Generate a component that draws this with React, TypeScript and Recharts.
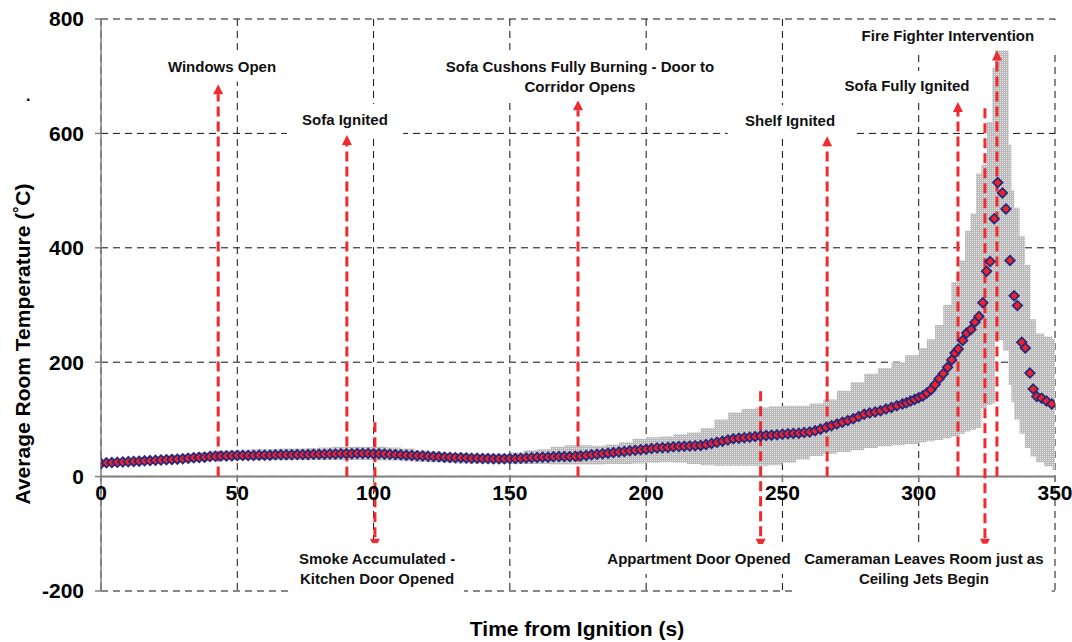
import {
  ComposedChart,
  Area,
  Scatter,
  XAxis,
  YAxis,
  CartesianGrid,
  ReferenceLine,
  ReferenceDot,
} from 'recharts';

// average room temperature, every 2 s from 0 to 292 s
const smoothTemps = [
  23, 24, 24.5, 25, 25.5, 26, 26.5, 27, 27.5, 28, 28.5, 29, 29.5, 30, 30.5, 31, 32, 33, 33.5, 34,
  35, 35.5, 36, 36, 36.5, 37, 37, 37, 37, 37.5, 37.5, 37.5, 38, 38, 38, 38, 38.5, 38.5, 38.5, 39,
  39, 39, 39.5, 39.5, 40, 40, 40, 40.5, 40.5, 40.5, 40, 40, 39.5, 39, 38.5, 38, 37.5, 37, 36.5, 36,
  35.5, 35, 34.5, 34, 33.5, 33, 33, 32.5, 32, 32, 31.5, 31.5, 31, 31, 31, 31.5, 31.5, 32, 32.5, 33,
  33.5, 34, 34, 34.5, 35, 35, 35, 35.5, 36, 37, 38, 39, 40, 41, 42, 43, 44, 45, 46, 47,
  48, 49, 50, 50.5, 51, 52, 52.5, 53, 53.5, 54, 54.5, 56, 58, 60, 62, 64, 66, 67, 68, 69,
  70, 71, 72, 72.5, 73, 74, 75, 75.5, 76, 77, 78, 80, 83, 86, 89, 92, 95, 98, 101, 105,
  109, 111, 113, 115, 118, 121, 124,
];

// sparser readings near the flashover
const tailTimes = [
  294, 295.5, 297, 298.5, 300, 301.5, 303, 304.5, 306, 307.5, 309, 310.6, 312.1, 313.3, 314.5,
  316.1, 317.6, 319.2, 320.6, 322.1, 323.5, 324.9, 326.2, 327.7, 329, 330.7, 332, 333.5, 335,
  336.2, 337.8, 339.1, 340.8, 342, 343.3, 345.1, 346.9, 348.8,
];
const tailTemps = [
  127, 129, 132, 135, 138, 141, 146, 152, 161, 171, 180, 191, 204, 216, 223,
  238, 251, 257, 270, 280, 304, 359, 376, 451, 514, 496, 468, 378, 316,
  299, 235, 225, 181, 153, 140, 137, 132, 127,
];

// spread of thermocouple readings (shaded band)
const bandTimes = [
  0, 5, 10, 15, 20, 25, 30, 35, 40, 45, 50, 55, 60, 65, 70, 75, 80, 85, 90, 95, 100, 105, 110, 115,
  120, 125, 130, 135, 140, 145, 150, 155, 160, 165, 170, 175, 180, 185, 190, 195, 200, 205, 210,
  215, 220, 225, 230, 235, 240, 245, 250, 255, 260, 265, 270, 275, 280, 285, 290, 295, 300, 303,
  306, 309, 312, 315, 317, 319, 321, 323, 325, 327, 328, 331, 333, 334, 335, 337, 339, 341, 343,
  346, 349, 350,
];
const bandLow = [
  19, 20, 21, 22, 23, 24, 25, 27, 28, 28, 29, 29, 29, 29, 29, 29, 29, 29, 29, 29, 28, 28, 27, 26,
  25, 24, 23, 23, 23, 23, 22, 22, 22, 21, 21, 21, 21, 22, 22, 23, 24, 25, 24,
  22, 20, 19, 19, 19, 19, 20, 24, 30, 36, 40, 43, 46, 50, 53, 55, 57, 60, 62,
  64, 67, 70, 75, 79, 82, 85, 120, 125, 128, 238, 220, 160, 130, 100, 75, 50, 35, 25,
  18, 12, 12,
];
const bandHigh = [
  28, 30, 32, 34, 36, 38, 40, 43, 45, 46, 47, 48, 48, 49, 49, 50, 51, 52, 52, 52, 52, 51, 49, 46,
  44, 42, 41, 40, 40, 40, 42, 46, 48, 52, 55, 55, 54, 56, 60, 66, 69, 70, 74,
  77, 85, 100, 112, 118, 121, 123, 124, 124, 128, 135, 150, 165, 180, 190, 200, 212, 225, 240,
  265, 300, 340, 378, 430, 460, 530, 545, 620, 715, 745, 745, 580, 500, 470, 420, 370, 275, 250,
  245, 240, 240,
];

// events marked with arrows
const eventTimes = [43, 90.2, 100.5, 175, 242, 266.4, 314.4, 324.3, 328.7];
const eventFrom = [0, 0, 95, 0, 149, 0, 0, 644, 0];
const eventTo = [686, 597, -126, 658, -126, 595, 655, -126, 745];
const eventLabels = [
  ['Windows Open'],
  ['Sofa Ignited'],
  ['Smoke Accumulated -', 'Kitchen Door Opened'],
  ['Sofa Cushons Fully Burning - Door to', 'Corridor Opens'],
  ['Appartment Door Opened'],
  ['Shelf Ignited'],
  ['Sofa Fully Ignited'],
  ['Cameraman Leaves Room just as', 'Ceiling Jets Begin'],
  ['Fire Fighter Intervention'],
];
// label block centres, in chart units
const labelAt = [
  [44.4, 717], [89.5, 625], [101.3, -160], [175.7, 700], [219.4, -144],
  [252.8, 623], [295.7, 683], [301.9, -161], [310.7, 772],
];

const xTicks = [0, 50, 100, 150, 200, 250, 300, 350];
const yTicks = [-200, 0, 200, 400, 600, 800];

const W = 1072;
const H = 642;
const M = { top: 19, right: 17, bottom: 21, left: 0 };
const X_AXIS_H = 30;
const Y_AXIS_W = 101;
const PLOT_H = H - M.top - M.bottom - X_AXIS_H;
const ZERO_Y = M.top + (PLOT_H * 800) / 1000;

const FONT = '"Liberation Sans", Arial, Helvetica, sans-serif';
const RED = '#f02a2e';

const tempPoints = [
  ...smoothTemps.map((v, i) => ({ t: i * 2, temp: v })),
  ...tailTimes.map((t, i) => ({ t, temp: tailTemps[i] })),
];
const bandPoints = bandTimes.map((t, i) => ({ t, range: [bandLow[i], bandHigh[i]] }));

const Diamond = (p: any) => {
  const { cx, cy } = p;
  const r = 4.8;
  return (
    <polygon
      points={`${cx},${cy - r} ${cx + r},${cy} ${cx},${cy + r} ${cx - r},${cy}`}
      fill="#f0222a"
      stroke="#27287a"
      strokeWidth={1.7}
    />
  );
};

const Arrow = (p: any) => {
  const { x1, y1, x2, y2 } = p;
  if (x1 == null || y1 == null) return null;
  const dir = y2 > y1 ? 1 : -1;
  const head = 10;
  return (
    <g>
      <line x1={x1} y1={y1} x2={x2} y2={y2 - dir * head} stroke={RED} strokeWidth={3} strokeDasharray="10 5" />
      <polygon points={`${x2},${y2} ${x2 - 5},${y2 - dir * head} ${x2 + 5},${y2 - dir * head}`} fill={RED} />
    </g>
  );
};

const makeLabel = (lines: string[]) => (p: any) => {
  const { cx, cy } = p;
  const lh = 20;
  const longest = Math.max(...lines.map((l) => l.length));
  const w = longest * 8.2 + 18;
  const h = lines.length * lh + 10;
  return (
    <g>
      <rect x={cx - w / 2} y={cy - h / 2} width={w} height={h} fill="#fff" />
      {lines.map((l, i) => (
        <text
          key={i}
          x={cx}
          y={cy - ((lines.length - 1) * lh) / 2 + i * lh}
          textAnchor="middle"
          dominantBaseline="central"
          fontFamily={FONT}
          fontWeight="bold"
          fontSize={15}
          fill="#111"
        >
          {l}
        </text>
      ))}
    </g>
  );
};

const XTick = (p: any) => {
  const { x, payload } = p;
  return (
    <g>
      <line x1={x} x2={x} y1={ZERO_Y} y2={ZERO_Y + 5} stroke="#808080" strokeWidth={1.5} />
      <text x={x} y={ZERO_Y + 23} textAnchor="middle" fontFamily={FONT} fontWeight="bold" fontSize={21} fill="#000">
        {payload.value}
      </text>
    </g>
  );
};

export default function App() {
  return (
    <div style={{ position: 'absolute', left: 0, top: 0, width: W, height: H, background: '#fff' }}>
      <ComposedChart width={W} height={H} margin={M}>
        <defs>
          <pattern id="dots" width="2" height="2" patternUnits="userSpaceOnUse">
            <rect width="2" height="2" fill="#b9b9b9" />
            <rect width="1" height="1" fill="#e6e6e6" />
          </pattern>
        </defs>
        <CartesianGrid stroke="#111" strokeWidth={1} strokeDasharray="7 5" />
        <XAxis
          type="number"
          dataKey="t"
          domain={[0, 350]}
          ticks={xTicks}
          height={X_AXIS_H}
          axisLine={false}
          tickLine={false}
          tick={<XTick />}
          allowDataOverflow
        />
        <YAxis
          type="number"
          domain={[-200, 800]}
          ticks={yTicks}
          width={Y_AXIS_W}
          stroke="#808080"
          axisLine={{ stroke: '#808080', strokeWidth: 1.5 }}
          tickLine={{ stroke: '#808080', strokeWidth: 1.5 }}
          tickSize={6}
          tickMargin={11}
          tick={{ fontSize: 21, fontWeight: 'bold', fill: '#000', fontFamily: FONT }}
          allowDataOverflow
        />
        <Area
          data={bandPoints}
          dataKey="range"
          type="stepAfter"
          stroke="none"
          fill="url(#dots)"
          fillOpacity={1}
          isAnimationActive={false}
        />
        <ReferenceLine y={0} stroke="#808080" strokeWidth={2} />
        <Scatter data={tempPoints} dataKey="temp" shape={<Diamond />} isAnimationActive={false} />
        {eventTimes.map((t, i) => (
          <ReferenceLine
            key={'a' + i}
            segment={[
              { x: t, y: eventFrom[i] },
              { x: t, y: eventTo[i] },
            ]}
            shape={<Arrow />}
            ifOverflow="visible"
          />
        ))}
        {eventLabels.map((lines, i) => (
          <ReferenceDot
            key={'l' + i}
            x={labelAt[i][0]}
            y={labelAt[i][1]}
            r={1}
            shape={makeLabel(lines)}
            ifOverflow="visible"
          />
        ))}
      </ComposedChart>
      <svg width={W} height={H} style={{ position: 'absolute', left: 0, top: 0, pointerEvents: 'none' }}>
        <text
          x={22}
          y={344}
          transform="rotate(-90 22 344)"
          textAnchor="middle"
          dominantBaseline="central"
          fontFamily={FONT}
          fontWeight="bold"
          fontSize={21}
          fill="#000"
        >
          Average Room Temperature (˚C)
        </text>
        <text x={26} y={101} fontFamily={FONT} fontWeight="bold" fontSize={16} fill="#000">
          .
        </text>
        <text x={577} y={636} textAnchor="middle" fontFamily={FONT} fontWeight="bold" fontSize={21} fill="#000">
          Time from Ignition (s)
        </text>
      </svg>
    </div>
  );
}
